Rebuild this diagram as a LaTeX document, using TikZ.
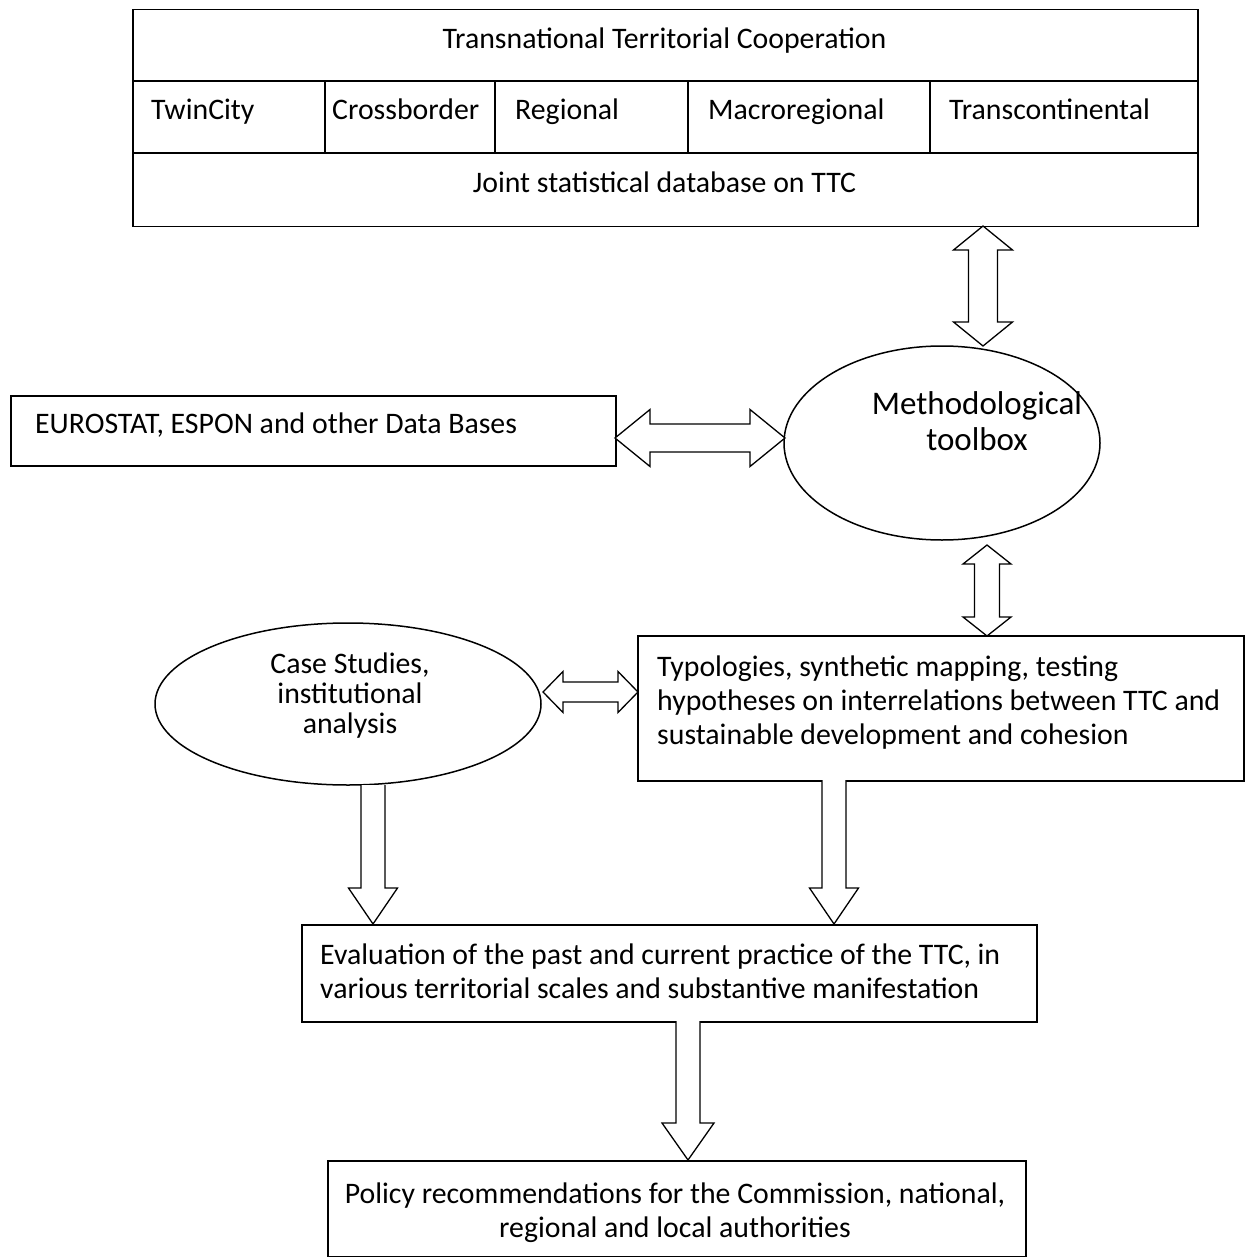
\documentclass[tikz,border=0pt]{standalone}
\usepackage{fontspec}
\setmainfont{Carlito}
\usetikzlibrary{shapes.geometric,calc}
\tikzset{
  box/.style={draw, line width=1.5pt, rectangle, inner sep=0pt, anchor=north west},
  oval/.style={draw, line width=1.5pt, ellipse, inner sep=0pt},
  txt/.style={inner sep=0pt, font=\fontsize{29.8}{34}\selectfont},
  bigtxt/.style={inner sep=0pt, font=\fontsize{33}{36}\selectfont},
  fat/.style={draw, fill=white, line width=1.3pt, line join=miter},
  divider/.style={line width=1.5pt},
}
% double vertical fat arrow: top tip, bottom tip, shaft half, head half, head length
\newcommand\dblV[5]{%
  \draw[fat] (#1) -- ++(#4,#5) -- ++({#3-#4},0) -- ($(#2)+(#3,-#5)$) -- ++({#4-#3},0) -- (#2)
    -- ++(-#4,-#5) -- ++({#4-#3},0) -- ($(#1)+(-#3,#5)$) -- ++({#3-#4},0) -- cycle;}
% double horizontal fat arrow: left tip, right tip, shaft half, head half, head length
\newcommand\dblH[5]{%
  \draw[fat] (#1) -- ++(#5,-#4) -- ++(0,{#4-#3}) -- ($(#2)+(-#5,-#3)$) -- ++(0,{#3-#4}) -- (#2)
    -- ++(-#5,#4) -- ++(0,{#3-#4}) -- ($(#1)+(#5,#3)$) -- ++(0,{#4-#3}) -- cycle;}
% single downward fat arrow: shaft top, tip, shaft half, head half, head length
\newcommand\downA[5]{%
  \draw[fat] ($(#1)+(-#3,0)$) -- ($(#2)+(-#3,-#5)$) -- ++({#3-#4},0) -- (#2)
    -- ($(#2)+(#4,-#5)$) -- ++({#3-#4},0) -- ($(#1)+(#3,0)$);}
\begin{document}
\begin{tikzpicture}[x=1pt,y=-1pt]
\useasboundingbox (0,0) rectangle (1244,1257);

% ---------- top table ----------
\node[box, minimum width=1065pt, minimum height=217pt] (ttc) at (132,9) {};
\draw[divider] (132,81) -- (1197,81) (132,153) -- (1197,153);
\draw[divider] (325,81) -- (325,153) (495,81) -- (495,153) (688,81) -- (688,153) (930,81) -- (930,153);
\node[txt, anchor=base] (tttc) at (664.5,49) {Transnational Territorial Cooperation};
\node[txt, anchor=base west] (ttwin) at (151,120) {TwinCity};
\node[txt, anchor=base west] (tcross) at (332,120) {Crossborder};
\node[txt, anchor=base west] (treg) at (515,120) {Regional};
\node[txt, anchor=base west] (tmacro) at (708,120) {Macroregional};
\node[txt, anchor=base west] (ttrans) at (949,120) {Transcontinental};
\node[txt, anchor=base] (tjoint) at (664.5,193) {Joint statistical database on TTC};

% ---------- methodological toolbox ----------
\node[oval, minimum width=316pt, minimum height=194pt] (meth) at (942,443) {};
\node[bigtxt, anchor=base] (tmeth1) at (977,414) {Methodological};
\node[bigtxt, anchor=base] (tmeth2) at (977,450) {toolbox};

% ---------- EUROSTAT ----------
\node[box, minimum width=605pt, minimum height=70pt] (euro) at (10,395) {};
\node[txt, anchor=base west] (teuro) at (35,433) {EUROSTAT, ESPON and other Data Bases};

% ---------- typologies ----------
\node[box, minimum width=606pt, minimum height=145pt] (typ) at (637,635) {};
\node[txt, anchor=base west] (ttyp1) at (657,676) {Typologies, synthetic mapping, testing};
\node[txt, anchor=base west] (ttyp2) at (657,710) {hypotheses on interrelations between TTC and};
\node[txt, anchor=base west] (ttyp3) at (657,744) {sustainable development and cohesion};

% ---------- case studies ----------
\node[oval, minimum width=386pt, minimum height=162pt] (case) at (348,704) {};
\node[txt, anchor=base] (tcase1) at (350,673) {Case Studies,};
\node[txt, anchor=base] (tcase2) at (350,703) {institutional};
\node[txt, anchor=base] (tcase3) at (350,733) {analysis};

% ---------- evaluation ----------
\node[box, minimum width=735pt, minimum height=97pt] (eval) at (301,924) {};
\node[txt, anchor=base west] (teval1) at (320,964) {Evaluation of the past and current practice of the TTC, in};
\node[txt, anchor=base west] (teval2) at (320,998) {various territorial scales and substantive manifestation};

% ---------- policy ----------
\node[box, minimum width=698pt, minimum height=96pt] (pol) at (327,1160) {};
\node[txt, anchor=base] (tpol1) at (675,1203) {Policy recommendations for the Commission, national,};
\node[txt, anchor=base] (tpol2) at (675,1237) {regional and local authorities};

% ---------- connector end points ----------
\coordinate (a1t) at (983,226);  \coordinate (a1b) at (983,346);
\coordinate (h1l) at (615,438);  \coordinate (h1r) at (785,438);
\coordinate (a2t) at (987,545);  \coordinate (a2b) at (987,636);
\coordinate (h2l) at (543,692);  \coordinate (h2r) at (638,692);
\coordinate (d1t) at (373,785);  \coordinate (d1b) at (373,924);
\coordinate (d2t) at (834,780);  \coordinate (d2b) at (834,924);
\coordinate (d3t) at (688,1021); \coordinate (d3b) at (688,1160);

% ---------- connectors ----------
\dblV{a1t}{a1b}{14.5}{29.5}{24}
\dblH{h1l}{h1r}{14}{28.5}{35}
\dblV{a2t}{a2b}{12.5}{24}{19}
\dblH{h2l}{h2r}{10}{20.5}{20}
\downA{d1t}{d1b}{12}{24.5}{36}
\downA{d2t}{d2b}{12}{24.5}{36}
\downA{d3t}{d3b}{12}{26}{37}
\end{tikzpicture}
\end{document}
